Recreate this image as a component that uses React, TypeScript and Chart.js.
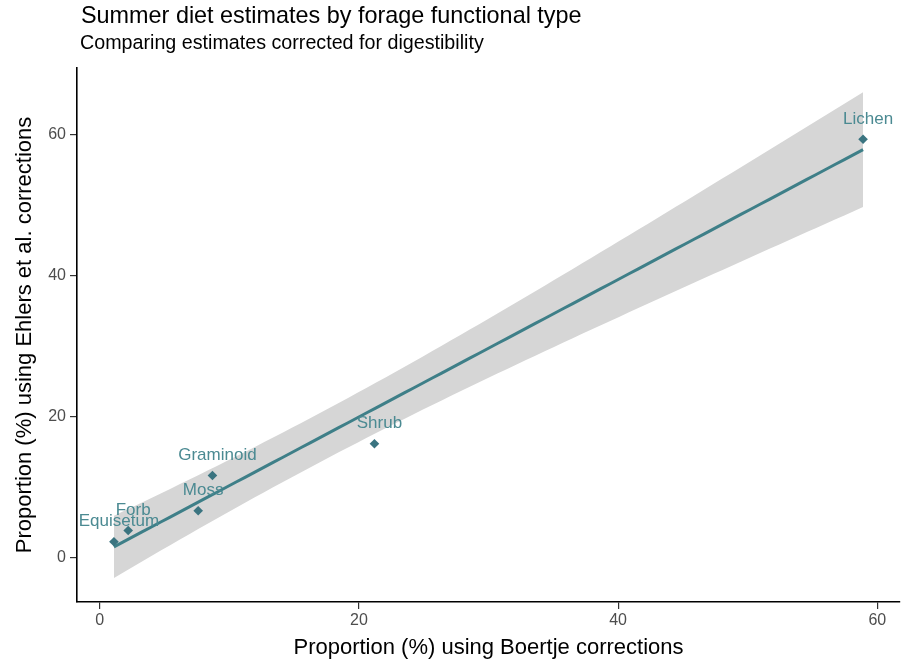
import React, { useEffect, useRef } from "react";
import { Chart, registerables } from "chart.js";

Chart.register(...registerables);

// forage types and their estimated proportions (%)
const forageTypes = ["Equisetum", "Forb", "Moss", "Graminoid", "Shrub", "Lichen"];
const boertje = [1.1, 2.2, 7.6, 8.7, 21.2, 58.9];
const ehlers = [2.3, 3.9, 6.7, 11.7, 16.2, 59.4];

const xTicks = [0, 20, 40, 60];
const yTicks = [0, 20, 40, 60];

const TEAL = "#3e7f88";
const POINT = "#3a7480";
const LABEL = "#4b8a92";
const FONT = "'Liberation Sans', Arial, sans-serif";

// linear model fit + 95% confidence band (like geom_smooth(method = "lm"))
function fitLm(xs: number[], ys: number[]) {
  const n = xs.length;
  const mx = xs.reduce((a, b) => a + b, 0) / n;
  const my = ys.reduce((a, b) => a + b, 0) / n;
  let sxx = 0;
  let sxy = 0;
  xs.forEach((x, i) => {
    sxx += (x - mx) * (x - mx);
    sxy += (x - mx) * (ys[i] - my);
  });
  const slope = sxy / sxx;
  const icpt = my - slope * mx;
  let sse = 0;
  xs.forEach((x, i) => {
    const r = ys[i] - (icpt + slope * x);
    sse += r * r;
  });
  const s = Math.sqrt(sse / (n - 2));
  const tCrit = 2.776; // t(0.975, df = 4)
  const lo = Math.min(...xs);
  const hi = Math.max(...xs);
  const fit: { x: number; y: number }[] = [];
  const upper: { x: number; y: number }[] = [];
  const lower: { x: number; y: number }[] = [];
  for (let k = 0; k <= 80; k++) {
    const x = lo + ((hi - lo) * k) / 80;
    const y = icpt + slope * x;
    const se = s * Math.sqrt(1 / n + ((x - mx) * (x - mx)) / sxx);
    fit.push({ x, y });
    upper.push({ x, y: y + tCrit * se });
    lower.push({ x, y: y - tCrit * se });
  }
  return { fit, upper, lower };
}

const pointLabels = {
  id: "pointLabels",
  afterDatasetsDraw(chart: any) {
    const ctx = chart.ctx;
    const meta = chart.getDatasetMeta(0);
    ctx.save();
    ctx.font = `17px ${FONT}`;
    ctx.fillStyle = LABEL;
    ctx.textAlign = "center";
    ctx.textBaseline = "middle";
    meta.data.forEach((el: any, i: number) => {
      ctx.fillText(forageTypes[i], el.x + 5, el.y - 20);
    });
    ctx.restore();
  },
};

const titles = {
  id: "titles",
  afterDraw(chart: any) {
    const ctx = chart.ctx;
    ctx.save();
    ctx.fillStyle = "#000";
    ctx.textAlign = "left";
    ctx.textBaseline = "alphabetic";
    ctx.font = `23.4px ${FONT}`;
    ctx.fillText("Summer diet estimates by forage functional type", 81, 23);
    ctx.font = `19.7px ${FONT}`;
    ctx.fillText("Comparing estimates corrected for digestibility", 80, 49);
    ctx.restore();
  },
};

export default function App() {
  const canvasEl = useRef<HTMLCanvasElement>(null);

  useEffect(() => {
    if (!canvasEl.current) return;
    const ctx = canvasEl.current.getContext("2d");
    if (!ctx) return;
    const { fit, upper, lower } = fitLm(boertje, ehlers);

    const chart = new Chart(ctx, {
      type: "scatter",
      data: {
        datasets: [
          {
            label: "points",
            data: boertje.map((x, i) => ({ x, y: ehlers[i] })),
            pointStyle: "rectRot",
            pointRadius: 4.8,
            backgroundColor: POINT,
            borderColor: POINT,
            borderWidth: 0,
          },
          {
            label: "fit",
            data: fit,
            showLine: true,
            pointRadius: 0,
            borderColor: TEAL,
            borderWidth: 3,
          },
          {
            label: "upper",
            data: upper,
            showLine: true,
            pointRadius: 0,
            borderWidth: 0,
            borderColor: "rgba(0,0,0,0)",
            backgroundColor: "#d6d6d6",
            fill: "+1",
          },
          {
            label: "lower",
            data: lower,
            showLine: true,
            pointRadius: 0,
            borderWidth: 0,
            borderColor: "rgba(0,0,0,0)",
          },
        ],
      },
      options: {
        animation: false,
        responsive: false,
        layout: { padding: { left: 0, top: 68, right: 7, bottom: 0 } },
        plugins: {
          legend: { display: false },
          tooltip: { enabled: false },
        },
        scales: {
          x: {
            type: "linear",
            min: -1.75,
            max: 61.75,
            afterFit(scale: any) {
              scale.height = 63;
            },
            afterBuildTicks(scale: any) {
              scale.ticks = xTicks.map((v) => ({ value: v }));
            },
            grid: {
              display: true,
              drawOnChartArea: false,
              drawTicks: true,
              tickLength: 7,
              color: "#333333",
              lineWidth: 1.2,
            },
            border: { display: true, color: "#000", width: 1.6 },
            ticks: {
              color: "#4d4d4d",
              font: { family: FONT, size: 16 },
              padding: 2,
              maxRotation: 0,
            },
            title: {
              display: true,
              text: "Proportion (%) using Boertje corrections",
              color: "#000",
              font: { family: FONT, size: 22 },
              padding: { top: 0, bottom: 4 },
            },
          },
          y: {
            type: "linear",
            min: -6.25,
            max: 69.5,
            afterFit(scale: any) {
              scale.width = 77;
            },
            afterBuildTicks(scale: any) {
              scale.ticks = yTicks.map((v) => ({ value: v }));
            },
            grid: {
              display: true,
              drawOnChartArea: false,
              drawTicks: true,
              tickLength: 7,
              color: "#333333",
              lineWidth: 1.2,
            },
            border: { display: true, color: "#000", width: 1.6 },
            ticks: {
              color: "#4d4d4d",
              font: { family: FONT, size: 16 },
              padding: 4,
            },
            title: {
              display: true,
              text: "Proportion (%) using Ehlers et al. corrections",
              color: "#000",
              font: { family: FONT, size: 22 },
              padding: { top: 12, bottom: 0 },
            },
          },
        },
      },
      plugins: [pointLabels, titles],
    });

    return () => {
      chart.destroy();
    };
  }, []);

  return (
    <div style={{ position: "fixed", left: 0, top: 0, width: 907, height: 665, background: "#fff" }}>
      <canvas ref={canvasEl} width={907} height={665} style={{ width: 907, height: 665 }} />
    </div>
  );
}
